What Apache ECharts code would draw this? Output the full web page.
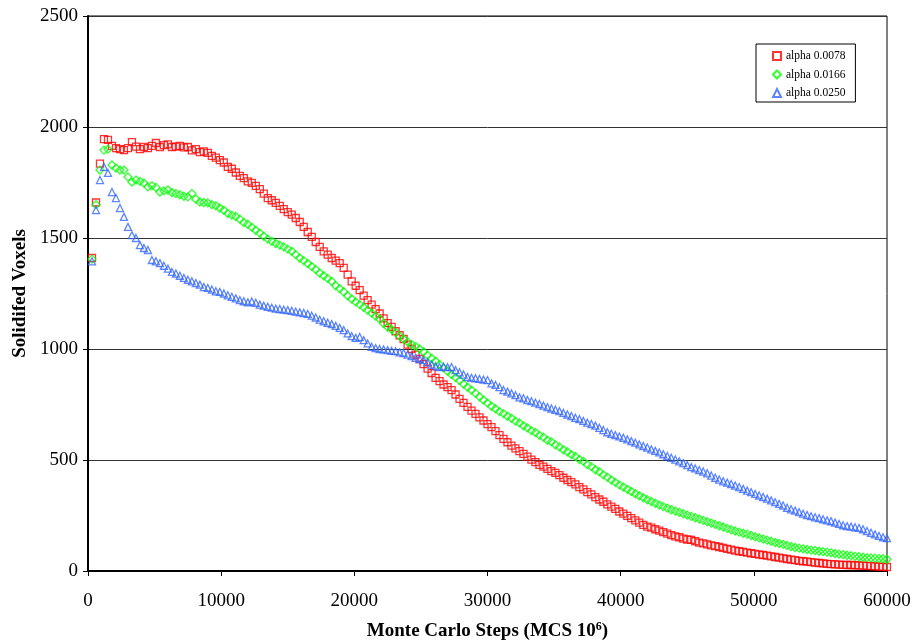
<!DOCTYPE html>
<html>
<head>
<meta charset="utf-8">
<title>Solidified Voxels</title>
<script src="https://cdn.jsdelivr.net/npm/echarts@6/dist/echarts.min.js"></script>
<style>
    html, body { margin: 0; padding: 0; background: #fff; }
    #chart { width: 913px; height: 641px; }
</style>
</head>
<body>
<div id="chart"></div>
<script>
// x: Monte Carlo steps, one sample every 300 steps
var stepSize = 300;
var steps = [];
for (var i = 1; i <= 200; i++) {
    steps.push(i * stepSize);
}

var seriesNames = ['alpha 0.0078', 'alpha 0.0166', 'alpha 0.0250'];

// alpha 0.0078
var voxelsA = [
    1410, 1660, 1835, 1945, 1942, 1915, 1905, 1900, 1896, 1905,
    1932, 1912, 1900, 1910, 1905, 1915, 1928, 1910, 1918, 1922,
    1910, 1912, 1915, 1908, 1910, 1895, 1900, 1887, 1890, 1883,
    1870, 1862, 1851, 1840, 1820, 1812, 1795, 1780, 1770, 1755,
    1748, 1735, 1720, 1700, 1680, 1670, 1658, 1645, 1630, 1617,
    1605, 1590, 1572, 1550, 1527, 1505, 1482, 1460, 1440, 1425,
    1410, 1398, 1387, 1365, 1335, 1305, 1285, 1265, 1240, 1220,
    1200, 1180, 1160, 1138, 1117, 1100, 1080, 1062, 1045, 1020,
    1000, 975, 955, 932, 912, 892, 870, 855, 840, 828,
    815, 795, 775, 757, 739, 722, 708, 692, 678, 662,
    648, 630, 612, 595, 580, 565, 552, 540, 528, 515,
    502, 490, 478, 470, 460, 450, 442, 432, 420, 410,
    400, 390, 378, 368, 355, 345, 333, 322, 312, 300,
    290, 280, 268, 258, 248, 238, 228, 218, 208, 200,
    195, 188, 182, 175, 168, 162, 156, 152, 146, 142,
    140, 134, 128, 124, 120, 115, 112, 108, 104, 100,
    96, 92, 89, 86, 83, 80, 77, 74, 72, 69,
    66, 63, 60, 57, 54, 51, 49, 46, 44, 42,
    40, 38, 36, 34, 32, 31, 30, 29, 28, 27,
    27, 26, 25, 24, 23, 22, 21, 20, 19, 18
];

// alpha 0.0166
var voxelsB = [
    1405, 1650, 1806, 1896, 1900, 1829, 1815, 1806, 1806, 1775,
    1752, 1761, 1755, 1748, 1730, 1735, 1728, 1707, 1712, 1716,
    1705, 1700, 1695, 1688, 1685, 1700, 1675, 1662, 1660, 1658,
    1650, 1645, 1635, 1625, 1610, 1603, 1597, 1585, 1570, 1562,
    1548, 1535, 1522, 1508, 1495, 1485, 1475, 1468, 1460, 1450,
    1440, 1425, 1410, 1398, 1385, 1372, 1358, 1342, 1330, 1318,
    1305, 1285, 1272, 1258, 1240, 1225, 1212, 1200, 1188, 1175,
    1162, 1148, 1135, 1115, 1099, 1088, 1075, 1058, 1045, 1032,
    1020, 1012, 1000, 988, 972, 958, 945, 930, 915, 900,
    885, 872, 858, 842, 828, 815, 800, 785, 770, 757,
    742, 731, 718, 709, 697, 688, 675, 667, 654, 645,
    632, 624, 611, 603, 589, 582, 568, 559, 546, 537,
    524, 516, 502, 494, 479, 470, 456, 447, 433, 423,
    410, 399, 388, 378, 368, 358, 348, 339, 330, 321,
    313, 305, 297, 290, 283, 276, 270, 264, 258, 252,
    246, 240, 234, 228, 222, 216, 210, 204, 198, 192,
    186, 180, 175, 170, 166, 160, 154, 149, 144, 139,
    134, 128, 124, 120, 115, 110, 106, 103, 100, 97,
    94, 92, 89, 87, 85, 82, 79, 76, 74, 71,
    69, 66, 64, 62, 60, 59, 58, 56, 55, 53
];

// alpha 0.0250
var voxelsC = [
    1395, 1626, 1761, 1820, 1793, 1707, 1680, 1635, 1595, 1550,
    1513, 1500, 1468, 1455, 1446, 1401, 1395, 1387, 1375, 1362,
    1347, 1340, 1330, 1320, 1312, 1305, 1297, 1290, 1279, 1275,
    1268, 1260, 1257, 1250, 1242, 1235, 1228, 1220, 1215, 1210,
    1214, 1208, 1200, 1195, 1190, 1186, 1182, 1180, 1177, 1175,
    1172, 1168, 1165, 1162, 1158, 1150, 1142, 1132, 1125, 1118,
    1112, 1104, 1095, 1085, 1070, 1058, 1050, 1054, 1040, 1025,
    1010, 1004, 1000, 998, 995, 992, 990, 985, 982, 975,
    968, 960, 955, 950, 940, 930, 922, 919, 920, 918,
    919, 905, 895, 885, 874, 870, 868, 865, 862, 860,
    845, 838, 828, 815, 808, 800, 792, 782, 778, 770,
    765, 758, 752, 745, 738, 732, 726, 720, 712, 705,
    698, 690, 684, 676, 668, 662, 655, 645, 635, 625,
    618, 612, 606, 600, 593, 585, 578, 570, 563, 556,
    548, 541, 534, 526, 518, 510, 502, 494, 486, 477,
    468, 462, 455, 448, 440, 430, 420, 412, 404, 398,
    392, 385, 378, 370, 362, 355, 347, 340, 333, 326,
    318, 310, 302, 295, 285, 278, 272, 265, 258, 252,
    247, 242, 238, 233, 228, 224, 218, 212, 206, 202,
    200, 197, 194, 188, 180, 172, 165, 158, 152, 148
];

var seriesColors = ['#ff0000', '#00ff00', '#3366ff'];
var seriesSymbols = ['rect', 'diamond', 'triangle'];
var seriesValues = [voxelsA, voxelsB, voxelsC];

function pairUp(xs, ys) {
    var out = [];
    for (var i = 0; i < ys.length; i++) {
        out.push([xs[i], ys[i]]);
    }
    return out;
}

var serifFont = '"Liberation Serif", "DejaVu Serif", serif';

var series = [];
for (var s = 0; s < seriesValues.length; s++) {
    series.push({
        name: seriesNames[s],
        type: 'scatter',
        symbol: seriesSymbols[s],
        symbolSize: s == 1 ? 8 : 7,
        data: pairUp(steps, seriesValues[s]),
        itemStyle: {
            color: 'rgba(255,255,255,0)',
            borderColor: seriesColors[s],
            borderWidth: 1.3
        },
        emphasis: { disabled: true },
        animation: false
    });
}

var option = {
    backgroundColor: '#fff',
    animation: false,
    grid: {
        left: 88,
        right: 26,
        top: 16,
        bottom: 70,
        outerBoundsMode: 'none',
        show: true,
        borderColor: '#000',
        borderWidth: 1
    },
    legend: {
        orient: 'vertical',
        left: 756,
        top: 44,
        data: seriesNames,
        itemWidth: 8,
        itemHeight: 8,
        itemGap: 6.5,
        padding: [6, 10, 3, 16],
        borderColor: '#000',
        borderWidth: 1,
        textStyle: { fontFamily: serifFont, fontSize: 11.5, color: '#000' }
    },
    xAxis: {
        type: 'value',
        min: 0,
        max: 60000,
        interval: 10000,
        name: 'Monte Carlo Steps (MCS 10{sup|6})',
        nameLocation: 'middle',
        nameGap: 50,
        nameTextStyle: {
            fontFamily: serifFont,
            fontSize: 19,
            fontWeight: 'bold',
            color: '#000',
            rich: {
                sup: {
                    fontFamily: serifFont,
                    fontSize: 12,
                    fontWeight: 'bold',
                    color: '#000',
                    verticalAlign: 'top',
                    padding: [0, 0, 8, 0]
                }
            }
        },
        axisLine: { lineStyle: { color: '#000', width: 2 } },
        axisTick: { inside: false, length: 5, lineStyle: { color: '#000' } },
        axisLabel: {
            fontFamily: serifFont, fontSize: 19, color: '#000', margin: 21,
            formatter: function (v) { return String(v); }
        },
        splitLine: { show: false }
    },
    yAxis: {
        type: 'value',
        min: 0,
        max: 2500,
        interval: 500,
        name: 'Solidifed Voxels',
        nameLocation: 'middle',
        nameGap: 53,
        nameTextStyle: {
            fontFamily: serifFont,
            fontSize: 19,
            fontWeight: 'bold',
            color: '#000'
        },
        axisLine: { show: true, lineStyle: { color: '#000', width: 2 } },
        axisTick: { show: true, inside: false, length: 5, lineStyle: { color: '#000' } },
        axisLabel: {
            fontFamily: serifFont, fontSize: 19, color: '#000', margin: 10,
            formatter: function (v) { return String(v); }
        },
        splitLine: { show: true, lineStyle: { color: '#333', width: 1 } }
    },
    series: series
};

var myChart = echarts.init(document.getElementById('chart'));
myChart.setOption(option);
</script>
</body>
</html>
